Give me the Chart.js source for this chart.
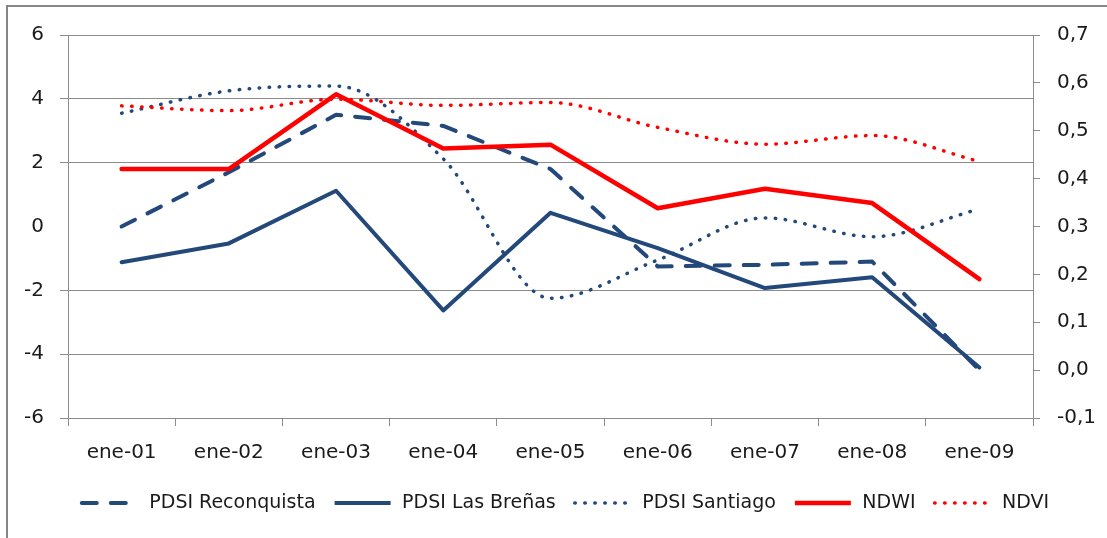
<!DOCTYPE html>
<html>
<head>
<meta charset="utf-8">
<title>PDSI / NDWI / NDVI</title>
<script src="https://cdn.jsdelivr.net/npm/chart.js@4.4.0/dist/chart.umd.min.js"></script>
<style>
    body { margin: 0; background: #fff; overflow: hidden; }
    #wrap { position: relative; width: 1107px; height: 538px; }
    /* marco gris del gráfico (arriba e izquierda) */
    #marco { position: absolute; left: 6px; top: 5px; width: 1200px; height: 600px;
             border-top: 2px solid #868686; border-left: 2px solid #868686; }
    #grafico { position: absolute; left: 0; top: 0; }
</style>
</head>
<body>
<div id="wrap">
    <div id="marco"></div>
    <canvas id="grafico" width="1107" height="538"></canvas>
</div>
<script>

var meses = ["ene-01","ene-02","ene-03","ene-04","ene-05","ene-06","ene-07","ene-08","ene-09"];

// PDSI (eje izquierdo)
var pdsiReconquista = [0.0, 1.7, 3.5, 3.15, 1.8, -1.25, -1.2, -1.1, -4.5];
var pdsiLasBrenas   = [-1.12, -0.53, 1.12, -2.63, 0.43, -0.68, -1.93, -1.59, -4.42];
var pdsiSantiago    = [3.55, 4.25, 4.4, 2.12, -2.25, -1.05, 0.27, -0.32, 0.55];

// índices (eje derecho)
var ndwi = [0.42, 0.42, 0.576, 0.463, 0.471, 0.338, 0.379, 0.349, 0.19];
var ndvi = [0.552, 0.542, 0.566, 0.553, 0.559, 0.507, 0.472, 0.49, 0.436];

var ticksIzq = [-6, -4, -2, 0, 2, 4, 6];
var ticksDer = [-0.1, 0.0, 0.1, 0.2, 0.3, 0.4, 0.5, 0.6, 0.7];

var azul = "#23487a";
var rojo = "#ff0000";
var gris = "#8c8c8c";
var fuente = "'DejaVu Sans', sans-serif";

// la leyenda de Chart.js no aplica el borderDash a la muestra, la dibujamos aparte
var muestrasLeyenda = {
    id: "muestrasLeyenda",
    afterDraw: function (chart) {
        var legend = chart.legend;
        if (!legend || !legend.legendHitBoxes) return;
        var c = chart.ctx;
        legend.legendItems.forEach(function (item, i) {
            var box = legend.legendHitBoxes[i];
            var ds = chart.data.datasets[item.datasetIndex];
            var y = box.top + box.height / 2;
            c.save();
            c.beginPath();
            c.strokeStyle = ds.borderColor;
            c.lineWidth = ds.borderWidth;
            c.lineCap = ds.borderDash ? "round" : "butt";
            c.setLineDash(ds.borderDash || []);
            c.moveTo(box.left + 2, y);
            c.lineTo(box.left + 58, y);
            c.stroke();
            c.restore();
        });
    }
};

window.onload = function () {

    var ctx = document.getElementById("grafico").getContext("2d");
    var myChart = new Chart(ctx, {
        type: "line",
        data: {
            labels: meses,
            datasets: [{
                label: "PDSI Reconquista",
                data: pdsiReconquista,
                yAxisID: "y",
                borderColor: azul,
                backgroundColor: azul,
                borderWidth: 4,
                borderDash: [15, 14],
                borderCapStyle: "round",
                borderJoinStyle: "round",
                pointRadius: 0,
                tension: 0,
                order: 5
            }, {
                label: "PDSI Las Breñas",
                data: pdsiLasBrenas,
                yAxisID: "y",
                borderColor: azul,
                backgroundColor: azul,
                borderWidth: 4,
                borderCapStyle: "round",
                borderJoinStyle: "round",
                pointRadius: 0,
                tension: 0,
                order: 4
            }, {
                label: "PDSI Santiago",
                data: pdsiSantiago,
                yAxisID: "y",
                borderColor: azul,
                backgroundColor: azul,
                borderWidth: 3.5,
                borderDash: [0.5, 9.5],
                borderCapStyle: "round",
                pointRadius: 0,
                cubicInterpolationMode: "monotone",
                order: 3
            }, {
                label: "NDWI",
                data: ndwi,
                yAxisID: "y2",
                borderColor: rojo,
                backgroundColor: rojo,
                borderWidth: 4.5,
                borderCapStyle: "round",
                borderJoinStyle: "round",
                pointRadius: 0,
                tension: 0,
                order: 2
            }, {
                label: "NDVI",
                data: ndvi,
                yAxisID: "y2",
                borderColor: rojo,
                backgroundColor: rojo,
                borderWidth: 3.5,
                borderDash: [0.5, 9.5],
                borderCapStyle: "round",
                pointRadius: 0,
                cubicInterpolationMode: "monotone",
                order: 1
            }]
        },
        options: {
            responsive: false,
            animation: false,
            layout: {
                padding: { top: 35, left: 22, right: 0, bottom: 15.5 }
            },
            scales: {
                x: {
                    offset: true,
                    grid: {
                        offset: true,
                        drawOnChartArea: false,
                        color: gris,
                        tickLength: 8
                    },
                    border: { color: gris },
                    ticks: {
                        padding: 15,
                        color: "#1a1a1a",
                        font: { family: fuente, size: 20 },
                        maxRotation: 0
                    },
                    afterFit: function (scale) { scale.height = 58.5; }
                },
                y: {
                    position: "left",
                    min: -6,
                    max: 6,
                    afterBuildTicks: function (scale) {
                        scale.ticks = ticksIzq.map(function (v) { return { value: v }; });
                    },
                    grid: {
                        // sin línea en el cero
                        color: function (c) { return c.tick && c.tick.value === 0 ? "rgba(0,0,0,0)" : gris; },
                        tickLength: 8
                    },
                    border: { color: gris },
                    ticks: {
                        padding: 16,
                        color: "#1a1a1a",
                        font: { family: fuente, size: 20 }
                    },
                    afterFit: function (scale) { scale.width = 46; }
                },
                y2: {
                    position: "right",
                    min: -0.1,
                    max: 0.7,
                    afterBuildTicks: function (scale) {
                        scale.ticks = ticksDer.map(function (v) { return { value: v }; });
                    },
                    grid: {
                        drawOnChartArea: false,
                        color: gris,
                        tickLength: 7
                    },
                    border: { color: gris },
                    ticks: {
                        padding: 17,
                        color: "#1a1a1a",
                        font: { family: fuente, size: 20 },
                        callback: function (v) { return v.toFixed(1).replace(".", ","); }
                    },
                    afterFit: function (scale) { scale.width = 74; }
                }
            },
            plugins: {
                tooltip: { enabled: false },
                legend: {
                    position: "bottom",
                    labels: {
                        usePointStyle: true,
                        pointStyle: "line",
                        pointStyleWidth: 60,
                        padding: 17,
                        color: "#1a1a1a",
                        font: { family: fuente, size: 19 },
                        sort: function (a, b) { return a.datasetIndex - b.datasetIndex; },
                        generateLabels: function (chart) {
                            var items = Chart.defaults.plugins.legend.labels.generateLabels(chart);
                            items.forEach(function (it) { it.strokeStyle = "rgba(0,0,0,0)"; });
                            return items;
                        }
                    }
                }
            }
        },
        plugins: [muestrasLeyenda]
    });

}

</script>
</body>
</html>
